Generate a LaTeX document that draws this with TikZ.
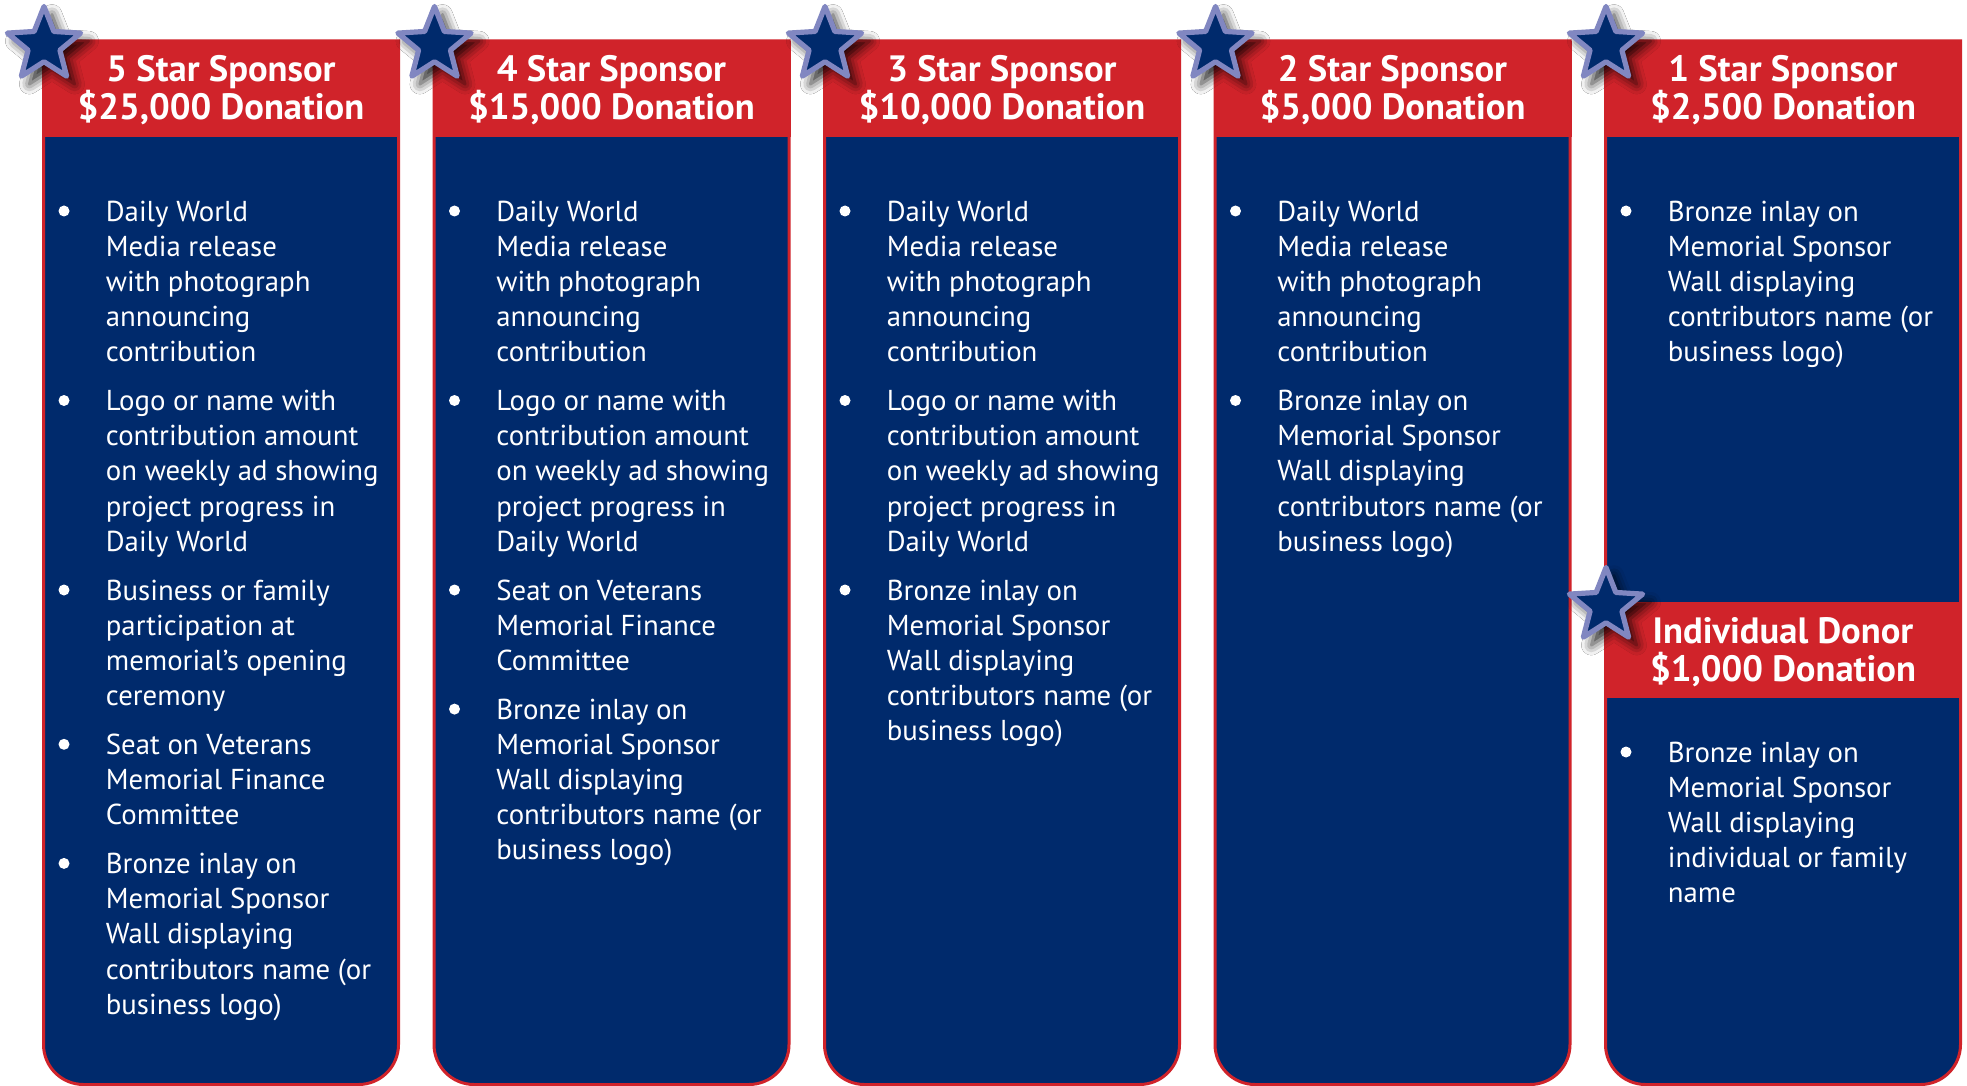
\documentclass[tikz,border=0pt]{standalone}
\usepackage{fontspec}
\setmainfont{PT Sans}
\usetikzlibrary{shapes.geometric,shadows.blur}
\definecolor{navy}{RGB}{0,42,108}
\definecolor{flagred}{RGB}{208,35,42}
\definecolor{starrim}{RGB}{129,135,193}
\newcommand\colbox[2]{% #1 name, #2 left x
  \draw[colbody] (#2+1.5,41) [rounded corners=20pt] -- (#2+1.5,1084.5) -- (#2+356.5,1084.5) [sharp corners] -- (#2+356.5,41) -- cycle;
}
\newcommand\hdrbox[5]{% name, left x, top y, line1, line2
  \node[hdr] (#1) at (#2,#3) {};
  \node[htxt] (#1-a) at (#2+179,#3+41) {#4};
  \node[htxt] (#1-b) at (#2+179,#3+79) {#5};
  \node[starshape] (#1-star) at (#2+2,#3+4) {};
}
\newcommand\bitem[4]{% name, left x, first baseline, lines
  \node[bul] (#1) at (#2+22,#3-10) {};
  \foreach \t [count=\k from 0] in {#4} {\node[btxt] (#1-\k) at (#2+63.5,#3+35.2*\k) {\t};}
}
\begin{document}
\begin{tikzpicture}[x=0.5pt,y=-0.5pt,
  colbody/.style={draw=flagred, line width=1.5pt, fill=navy},
  hdr/.style={fill=flagred, draw=none, minimum width=179pt, minimum height=48pt, inner sep=0pt, anchor=north west},
  htxt/.style={text=white, font=\fontsize{18.3}{20}\selectfont\bfseries, anchor=base, inner sep=0pt},
  btxt/.style={text=white, font=\fontsize{14.4}{17}\selectfont, anchor=base west, inner sep=0pt},
  bul/.style={circle, fill=white, minimum size=5.5pt, inner sep=0pt},
  starshape/.style={star, star points=5, star point ratio=2.3, minimum size=38.5pt, inner sep=0pt,
    fill=navy, draw=starrim, line width=2.6pt, line join=round,
    blur shadow={shadow xshift=4pt, shadow yshift=-4pt, shadow opacity=85, shadow blur radius=5pt}}]
\useasboundingbox (0,0) rectangle (1967,1086);
\fill[white] (0,0) rectangle (1967,1086);
% column 1
\colbox{c1}{42}
\hdrbox{h1}{42}{41}{5 Star Sponsor}{\$25,000 Donation}
\bitem{c1i1}{42}{221}{Daily World,Media release,with photograph,announcing,contribution}
\bitem{c1i2}{42}{410.5}{Logo or name with,contribution amount,on weekly ad showing,project progress in,Daily World}
\bitem{c1i3}{42}{600}{Business or family,participation at,memorial’s opening,ceremony}
\bitem{c1i4}{42}{754.3}{Seat on Veterans,Memorial Finance,Committee}
\bitem{c1i5}{42}{873.4}{Bronze inlay on,Memorial Sponsor,Wall displaying,contributors name (or,business logo)}
% column 2
\colbox{c2}{432.5}
\hdrbox{h2}{432.5}{41}{4 Star Sponsor}{\$15,000 Donation}
\bitem{c2i1}{432.5}{221}{Daily World,Media release,with photograph,announcing,contribution}
\bitem{c2i2}{432.5}{410.5}{Logo or name with,contribution amount,on weekly ad showing,project progress in,Daily World}
\bitem{c2i3}{432.5}{600}{Seat on Veterans,Memorial Finance,Committee}
\bitem{c2i4}{432.5}{719.1}{Bronze inlay on,Memorial Sponsor,Wall displaying,contributors name (or,business logo)}
% column 3
\colbox{c3}{823}
\hdrbox{h3}{823}{41}{3 Star Sponsor}{\$10,000 Donation}
\bitem{c3i1}{823}{221}{Daily World,Media release,with photograph,announcing,contribution}
\bitem{c3i2}{823}{410.5}{Logo or name with,contribution amount,on weekly ad showing,project progress in,Daily World}
\bitem{c3i3}{823}{600}{Bronze inlay on,Memorial Sponsor,Wall displaying,contributors name (or,business logo)}
% column 4
\colbox{c4}{1213.5}
\hdrbox{h4}{1213.5}{41}{2 Star Sponsor}{\$5,000 Donation}
\bitem{c4i1}{1213.5}{221}{Daily World,Media release,with photograph,announcing,contribution}
\bitem{c4i2}{1213.5}{410.5}{Bronze inlay on,Memorial Sponsor,Wall displaying,contributors name (or,business logo)}
% column 5
\colbox{c5}{1604}
\hdrbox{h5}{1604}{41}{1 Star Sponsor}{\$2,500 Donation}
\bitem{c5i1}{1604}{221}{Bronze inlay on,Memorial Sponsor,Wall displaying,contributors name (or,business logo)}
\hdrbox{h6}{1604}{602}{Individual Donor}{\$1,000 Donation}
\bitem{c5i2}{1604}{762}{Bronze inlay on,Memorial Sponsor,Wall displaying,individual or family,name}
\end{tikzpicture}
\end{document}
